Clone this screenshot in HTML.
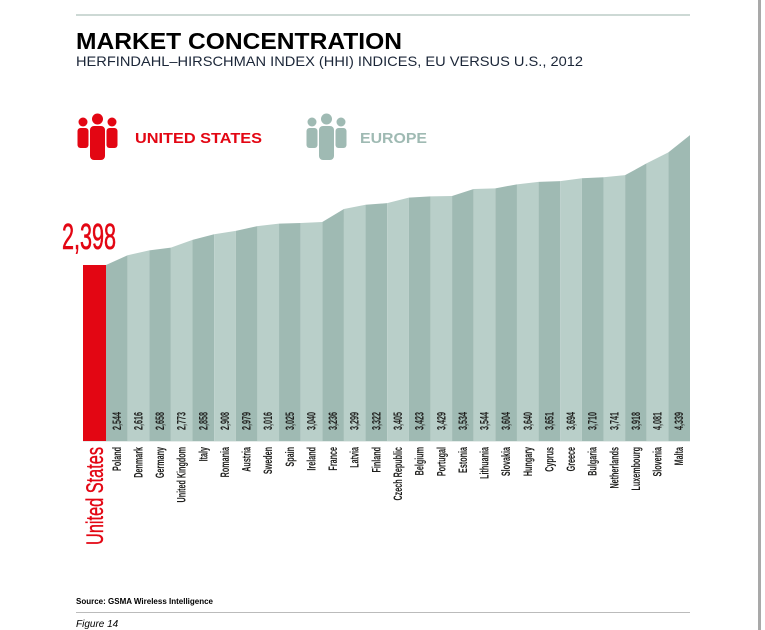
<!DOCTYPE html>
<html><head><meta charset="utf-8"><style>
html,body{margin:0;padding:0;background:#fff;}
svg{display:block;font-family:"Liberation Sans",sans-serif;}
</style></head><body>
<svg id="chart" width="765" height="630" viewBox="0 0 765 630">
<rect x="758" y="0" width="3" height="630" fill="#a9a9a9"/>
<rect x="76" y="14" width="614" height="2" fill="#cdd9d5"/>
<text x="76" y="49" font-size="23" font-weight="bold" fill="#000" textLength="326" lengthAdjust="spacingAndGlyphs">MARKET CONCENTRATION</text>
<text x="76" y="66" font-size="14" fill="#1b2638" textLength="507" lengthAdjust="spacingAndGlyphs">HERFINDAHL–HIRSCHMAN INDEX (HHI) INDICES, EU VERSUS U.S., 2012</text>
<g id="legend"></g>
<g id="marks"></g>
<text x="76" y="604" font-size="8" font-weight="bold" fill="#000">Source: GSMA Wireless Intelligence</text>
<rect x="76" y="612" width="614" height="1" fill="#bbb"/>
<text x="76" y="627" font-size="10" font-style="italic" fill="#000">Figure 14</text>
</svg>
<script>
const countries=["Poland","Denmark","Germany","United Kingdom","Italy","Romania","Austria","Sweden","Spain","Ireland","France","Latvia","Finland","Czech Republic","Belgium","Portugal","Estonia","Lithuania","Slovakia","Hungary","Cyprus","Greece","Bulgaria","Netherlands","Luxembourg","Slovenia","Malta"];
const values=[2544,2616,2658,2773,2858,2908,2979,3016,3025,3040,3236,3299,3322,3405,3423,3429,3534,3544,3604,3640,3651,3694,3710,3741,3918,4081,4339];
const usLabel="United States";
const usValue=2398;
const labels=["2,544","2,616","2,658","2,773","2,858","2,908","2,979","3,016","3,025","3,040","3,236","3,299","3,322","3,405","3,423","3,429","3,534","3,544","3,604","3,640","3,651","3,694","3,710","3,741","3,918","4,081","4,339"];

const NS="http://www.w3.org/2000/svg";
const base=441, x0=106, x1=690;
const bw=(x1-x0)/countries.length;
function y(v){return 265-(v-2398)*0.0669;}
function xs(i){return x0+i*bw;}
const g=document.getElementById('marks');
function mk(tag,attrs,parent){const e=document.createElementNS(NS,tag);for(const k in attrs)e.setAttribute(k,attrs[k]);(parent||g).appendChild(e);return e;}

let us=mk('rect',{x:83,y:y(usValue),width:x0-83,height:base-y(usValue),fill:'#e30613'});


let ut=mk('text',{x:62,y:249,'font-size':36,fill:'#e30613',stroke:'#e30613','stroke-width':0.6,transform:'translate(62,249) scale(0.6,1) translate(-62,-249)'});
ut.textContent="2,398";



let ul=mk('text',{'font-size':24,fill:'#e30613',stroke:'#e30613','stroke-width':0.4,'text-anchor':'end',transform:'translate(103,447) rotate(-90) scale(0.68,1)'});
ul.textContent=usLabel;



countries.forEach((c,i)=>{
  const xl=xs(i), xr=xs(i+1);
  const yl=i===0?y(usValue):y(values[i-1]);
  const yr=y(values[i]);
  const p=mk('polygon',{points:`${xl},${base} ${xl},${yl} ${xr},${yr} ${xr},${base}`,fill:i%2===0?'#9fbab3':'#b9cfc9'});
  
  
  const cx=xl+bw/2+4;
  const vt=mk('text',{'font-size':12,'font-weight':'bold',fill:'#1d1d1b','text-anchor':'middle',transform:`translate(${cx},421) rotate(-90) scale(0.6,1)`});
  vt.textContent=labels[i];
  
  
  const ct=mk('text',{'font-size':12,'font-weight':'bold',fill:'#1d1d1b','text-anchor':'end',transform:`translate(${cx},447) rotate(-90) scale(0.6,1)`});
  ct.textContent=c;
  
  
});
mk('rect',{x:83,y:441,width:607,height:1,fill:'#e5ecea'});

const lg=document.getElementById('legend');
function people(x,col,name){
  const grp=mk('g',{fill:col},lg);
  
  
  [x+5,x+34].forEach(px=>{
    mk('circle',{cx:px,cy:122,r:4.5},grp);
    mk('rect',{x:px-5.5,y:128,width:11,height:20,rx:3},grp);
  });
  mk('circle',{cx:x+19.5,cy:119,r:5.5},grp);
  mk('rect',{x:x+12,y:126,width:15,height:34,rx:4},grp);
}
people(78,'#e30613','us-people-icon');
people(307,'#9fbab3','europe-people-icon');
let t1=mk('text',{x:135,y:143,'font-size':15,'font-weight':'bold',fill:'#e30613',textLength:127,lengthAdjust:'spacingAndGlyphs'},lg);
t1.textContent="UNITED STATES";


let t2=mk('text',{x:360,y:143,'font-size':15,'font-weight':'bold',fill:'#9fbab3',textLength:67,lengthAdjust:'spacingAndGlyphs'},lg);
t2.textContent="EUROPE";


</script>
</body></html>
